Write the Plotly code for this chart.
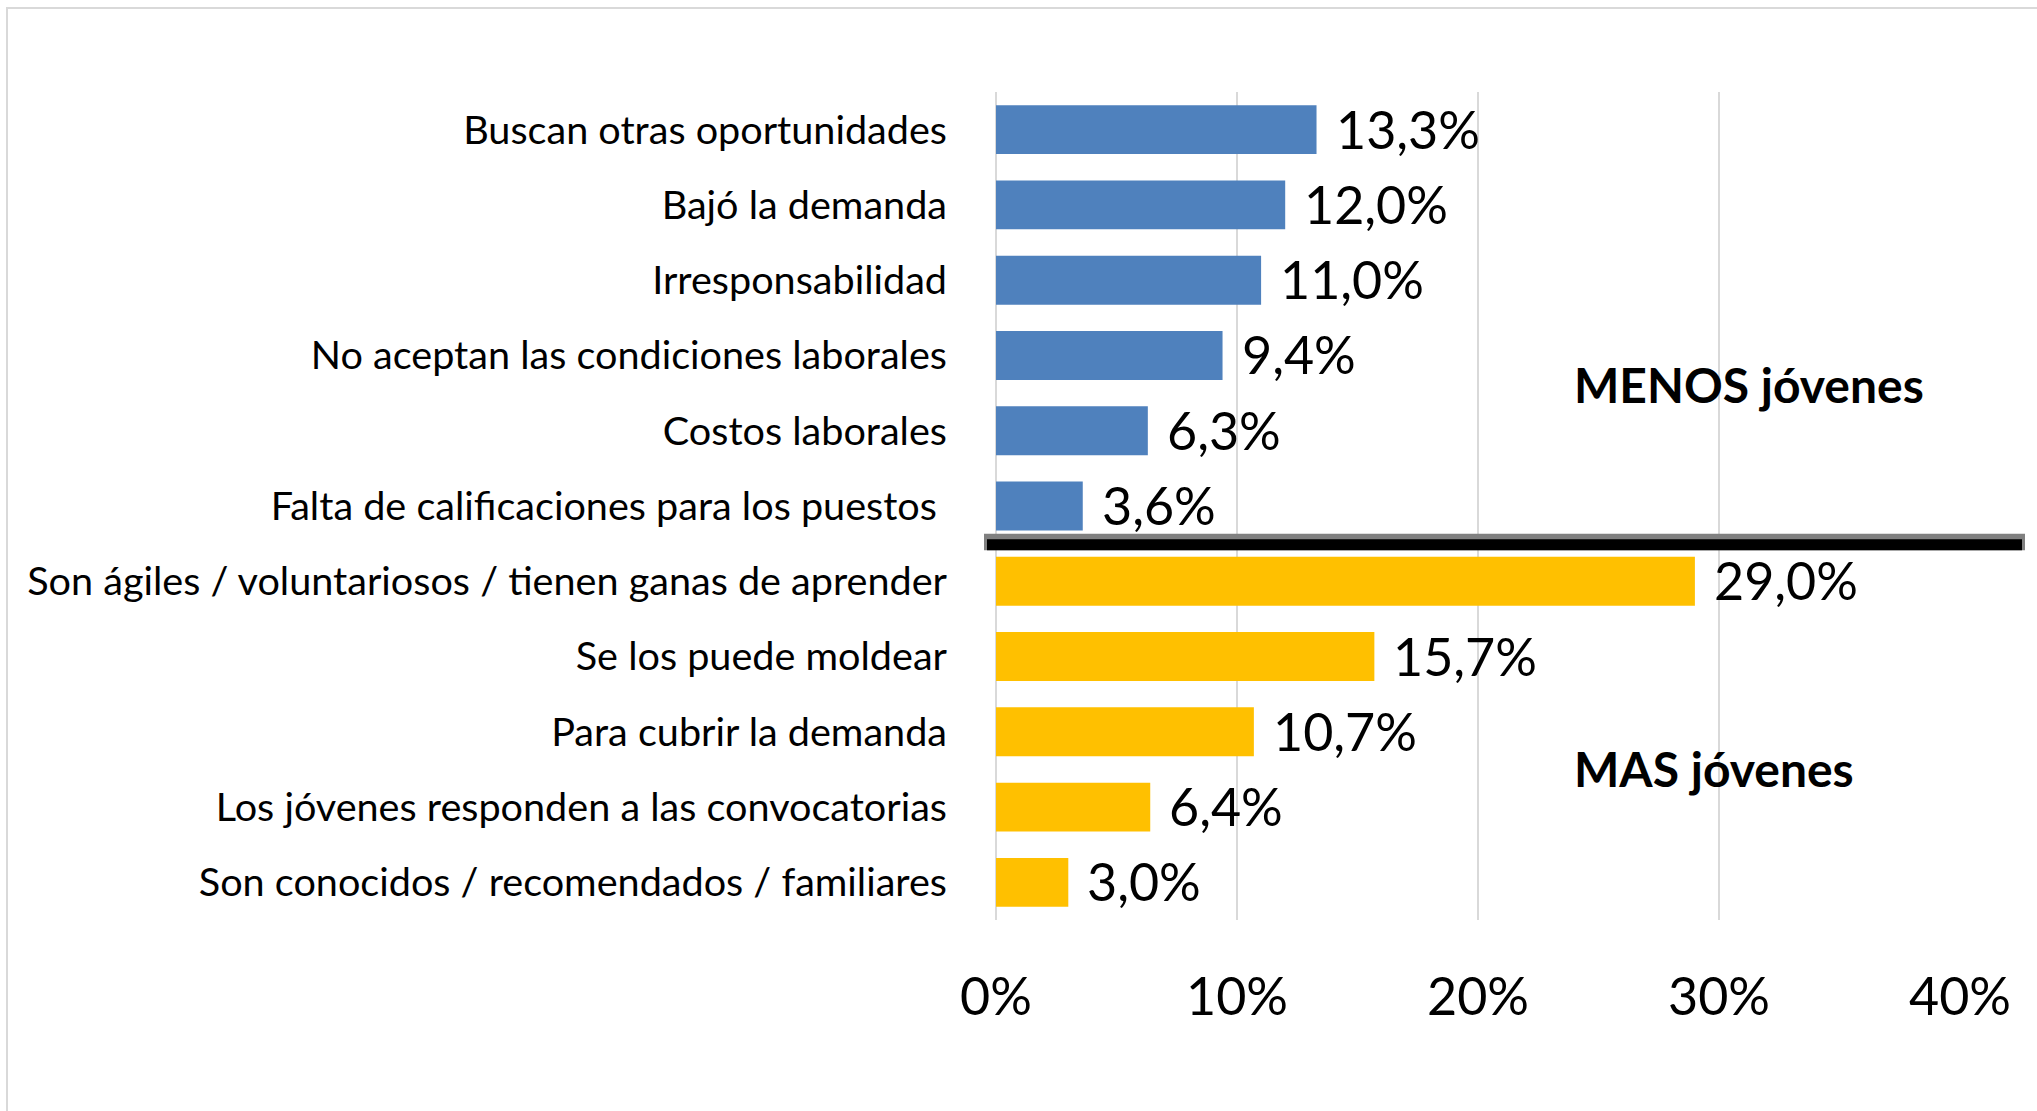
import plotly.graph_objects as go

categories = [
    "Buscan otras oportunidades",
    "Bajó la demanda",
    "Irresponsabilidad",
    "No aceptan las condiciones laborales",
    "Costos laborales",
    "Falta de calificaciones para los puestos ",
    "Son ágiles / voluntariosos / tienen ganas de aprender",
    "Se los puede moldear",
    "Para cubrir la demanda",
    "Los jóvenes responden a las convocatorias",
    "Son conocidos / recomendados / familiares",
]
values = [0.133, 0.120, 0.110, 0.094, 0.063, 0.036, 0.290, 0.157, 0.107, 0.064, 0.030]
groups = ["menos"] * 6 + ["mas"] * 5
tick_vals = [0, 0.1, 0.2, 0.3, 0.4]
tick_text = ["0%", "10%", "20%", "30%", "40%"]
group_labels = {"menos": "MENOS jóvenes", "mas": "MAS jóvenes"}

BLUE = "#4F81BD"
YELLOW = "#FFC000"
GRID = "#D9D9D9"
colors = [BLUE if g == "menos" else YELLOW for g in groups]
labels = [f"{v*100:.1f}".replace(".", ",") + "%" for v in values]

W, H = 2037, 1111
L, R, T, B = 996, 2037 - 1960, 92, 1111 - 920
PW, PH = W - L - R, H - T - B

def px_x(px):
    return (px - L) / PW

def px_y(py):
    return (H - B - py) / PH

FONT = "Lato"

fig = go.Figure()
fig.add_trace(go.Bar(
    x=values, y=categories, orientation="h",
    marker=dict(color=colors, line=dict(width=0)),
    hoverinfo="skip",
))

annotations = []
for c, v, t in zip(categories, values, labels):
    annotations.append(dict(
        x=v, y=c, xref="x", yref="y", text=t, showarrow=False,
        xanchor="left", yanchor="middle", xshift=17, yshift=1,
        font=dict(family=FONT, size=52, color="#000000"),
    ))

# group labels
annotations.append(dict(
    x=px_x(1572), y=px_y(384), xref="paper", yref="paper",
    text="<b>" + group_labels["menos"] + "</b>", showarrow=False,
    xanchor="left", yanchor="middle",
    font=dict(family=FONT, size=48, color="#000000"),
))
annotations.append(dict(
    x=px_x(1572), y=px_y(768), xref="paper", yref="paper",
    text="<b>" + group_labels["mas"] + "</b>", showarrow=False,
    xanchor="left", yanchor="middle",
    font=dict(family=FONT, size=48, color="#000000"),
))

# divider between groups
n_menos = groups.count("menos")
boundary = 1 - n_menos / len(categories)
dy = 1 / PH
shapes = [
    dict(type="rect", xref="paper", yref="paper",
         x0=px_x(7), x1=px_x(2100), y0=px_y(1200), y1=px_y(8),
         line=dict(color=GRID, width=2), fillcolor="rgba(0,0,0,0)", layer="below"),
    # gridline at 0%
    dict(type="line", xref="paper", yref="paper", x0=0, x1=0, y0=0, y1=1,
         line=dict(color=GRID, width=2), layer="below"),
    dict(type="rect", xref="paper", yref="paper",
         x0=px_x(984), x1=px_x(2025), y0=boundary - 6.5 * dy, y1=boundary + 10 * dy,
         line=dict(width=0), fillcolor="#808080", layer="above"),
    dict(type="rect", xref="paper", yref="paper",
         x0=px_x(987), x1=px_x(2022), y0=boundary - 6.5 * dy, y1=boundary + 4.5 * dy,
         line=dict(width=0), fillcolor="#000000", layer="above"),
]

fig.update_layout(
    width=W, height=H,
    margin=dict(l=L, r=R, t=T, b=B, pad=0),
    paper_bgcolor="white", plot_bgcolor="white",
    bargap=0.35,
    showlegend=False,
    annotations=annotations,
    shapes=shapes,
    font=dict(family=FONT, color="#000000"),
)
fig.update_xaxes(
    range=[0, 0.4], tickvals=tick_vals, ticktext=tick_text,
    showgrid=True, gridcolor=GRID, gridwidth=2,
    zeroline=False,
    showline=False, ticks="",
    tickfont=dict(family=FONT, size=52, color="#000000"),
    ticklabelstandoff=42,
)
fig.update_yaxes(
    autorange="reversed", type="category",
    showgrid=False, zeroline=False, showline=False, ticks="",
    tickfont=dict(family=FONT, size=39.6, color="#000000"),
    ticklabelstandoff=48,
)

fig.write_html(
    "out.html",
    config={"displayModeBar": False},
    post_script="document.body.style.margin='0';document.body.style.overflow='hidden';",
)
